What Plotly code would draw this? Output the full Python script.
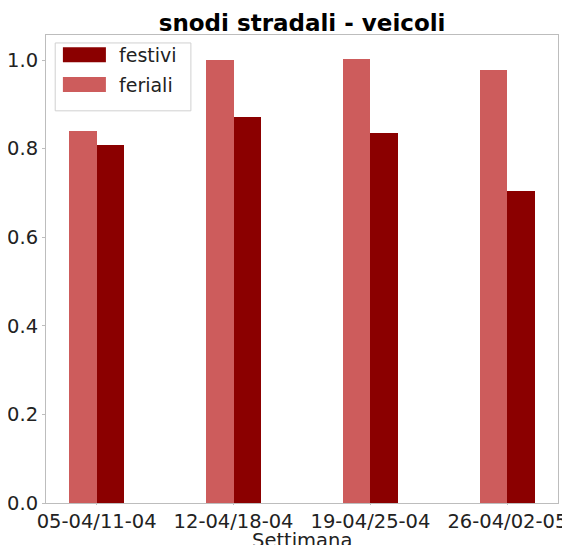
import plotly.graph_objects as go

weeks = ["05-04/11-04", "12-04/18-04", "19-04/25-04", "26-04/02-05"]
feriali = [0.840, 0.999, 1.003, 0.978]
festivi = [0.808, 0.871, 0.836, 0.704]
y_ticks = [0.0, 0.2, 0.4, 0.6, 0.8, 1.0]

C_FER = "#CD5C5C"
C_FES = "#8B0000"
FONT = "DejaVu Sans"
FS = 19.5

xpos = list(range(len(weeks)))
fig = go.Figure()
fig.add_trace(go.Bar(x=[p - 0.1 for p in xpos], y=feriali, width=0.2, name="feriali",
                     marker=dict(color=C_FER, line=dict(width=0)), showlegend=False))
fig.add_trace(go.Bar(x=[p + 0.1 for p in xpos], y=festivi, width=0.2, name="festivi",
                     marker=dict(color=C_FES, line=dict(width=0)), showlegend=False))

# matplotlib-like legend box
fig.add_shape(type="rect", xref="paper", yref="paper", x0=0.018, x1=0.283, y0=0.838, y1=0.983,
              line=dict(color="#d0d0d0", width=1), fillcolor="rgba(255,255,255,0.85)")
leg = [("festivi", C_FES, 0.958), ("feriali", C_FER, 0.894)]
for name, col, yc in leg:
    fig.add_shape(type="rect", xref="paper", yref="paper", x0=0.033, x1=0.117,
                  y0=yc - 0.016, y1=yc + 0.016, line=dict(width=0), fillcolor=col)
    fig.add_annotation(xref="paper", yref="paper", x=0.138, y=yc, text=name, showarrow=False,
                       xanchor="left", yanchor="middle", font=dict(family=FONT, size=19, color="#222"))

# x-axis title
fig.add_annotation(xref="paper", yref="paper", x=0.5, y=-0.080, text="Settimana", showarrow=False,
                   xanchor="center", yanchor="middle", font=dict(family=FONT, size=FS, color="#222"))

fig.update_layout(
    width=570, height=545,
    margin=dict(l=38, r=20, t=27, b=50),
    plot_bgcolor="white", paper_bgcolor="white",
    bargap=0, barmode="overlay",
    title=dict(text="<b>snodi stradali - veicoli</b>", x=0.516, xanchor="center", y=0.9725, yanchor="middle",
               font=dict(family=FONT, size=23, color="black")),
    font=dict(family=FONT, size=FS, color="#222"),
)
fig.update_xaxes(range=[-0.37, 3.37], tickvals=xpos, ticktext=weeks, showline=True, mirror=True,
                 linecolor="#bdbdbd", linewidth=1, ticks="outside", ticklen=1, tickcolor="#bdbdbd",
                 showgrid=False, zeroline=False,
                 automargin=False, tickfont=dict(family=FONT, size=FS, color="#222"))
fig.update_yaxes(range=[0, 1.0565], tickvals=y_ticks, tickformat=".1f", showline=True, mirror=True,
                 linecolor="#bdbdbd", linewidth=1, ticks="outside", ticklen=3, tickcolor="#bdbdbd",
                 showgrid=False, zeroline=False, automargin=False,
                 tickfont=dict(family=FONT, size=FS, color="#222"))

fig.write_html("out.html")
